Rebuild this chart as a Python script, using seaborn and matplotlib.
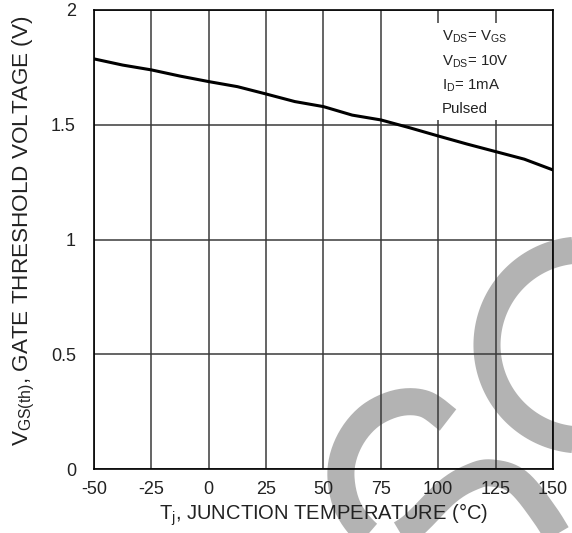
import numpy as np
import pandas as pd
import matplotlib
matplotlib.use('Agg')
import matplotlib.pyplot as plt
from matplotlib.lines import Line2D
import seaborn as sns

# Curve
temp_c = [-50, -37.5, -25, -12.5, 0, 12.5, 25, 37.5, 50, 62.5, 75, 87.5, 100, 112.5, 125, 137.5, 150]
vgs_th = [1.787, 1.760, 1.739, 1.712, 1.688, 1.666, 1.634, 1.601, 1.579, 1.542, 1.521, 1.487,
          1.451, 1.416, 1.383, 1.350, 1.303]
x_ticks = [-50, -25, 0, 25, 50, 75, 100, 125, 150]
y_ticks = [0, 0.5, 1, 1.5, 2]
y_tick_labels = ['0', '0.5', '1', '1.5', '2']
conditions = ['$V_{DS}$= $V_{GS}$', '$V_{DS}$= 10V', '$I_D$= 1mA', 'Pulsed']

df = pd.DataFrame({'Tj': temp_c, 'Vgs': vgs_th})

sns.set_style('white')
plt.rcParams['font.family'] = ['Liberation Sans', 'DejaVu Sans']
plt.rcParams['mathtext.default'] = 'regular'
plt.rcParams['axes.unicode_minus'] = False

W, H = 572, 533
fig = plt.figure(figsize=(W / 100, H / 100), dpi=100, facecolor='white')
ax = fig.add_axes([94 / W, 1 - 469 / H, 459 / W, 459 / H])
ax.set_facecolor('none')


# background watermark stroke (decoration, pixel coordinates of the page)
def catmull(pts, n=20):
    p = np.array(pts, dtype=float)
    p = np.vstack([p[0], p, p[-1]])
    out = []
    for i in range(1, len(p) - 2):
        p0, p1, p2, p3 = p[i - 1], p[i], p[i + 1], p[i + 2]
        for t in np.linspace(0, 1, n, endpoint=False):
            out.append(0.5 * ((2 * p1) + (-p0 + p2) * t + (2 * p0 - 5 * p1 + 4 * p2 - p3) * t ** 2
                              + (-p0 + 3 * p1 - 3 * p2 + p3) * t ** 3))
    out.append(p[-2])
    return np.array(out)


def add_stroke(xy):
    line = Line2D(xy[:, 0] / W, 1 - xy[:, 1] / H, transform=fig.transFigure,
                  color='#b3b3b3', lw=19.5, solid_capstyle='butt', zorder=-5)
    fig.add_artist(line)


wave = [(448, 420), (425, 404), (398, 403), (370, 416), (350, 440), (341, 470), (346, 503),
        (362, 528), (382, 540), (410, 528), (447, 492), (472, 477), (492, 473), (518, 482),
        (545, 515), (565, 548)]
add_stroke(catmull(wave))
t = np.radians(np.linspace(-100, 100, 120))
add_stroke(np.column_stack([582 - 95 * np.cos(t), 345 + 95 * np.sin(t)]))
add_stroke(catmull([(215, 565), (265, 541), (315, 565)]))

sns.lineplot(data=df, x='Tj', y='Vgs', ax=ax, color='black', lw=2.2, zorder=5)

ax.set_xlim(-50, 150)
ax.set_ylim(0, 2)
ax.set_xticks(x_ticks)
ax.set_yticks(y_ticks)
ax.set_yticklabels(y_tick_labels)
ax.grid(True, color='#3a3a3a', lw=1.1)
ax.set_axisbelow(True)
for s in ax.spines.values():
    s.set_color('black')
    s.set_linewidth(1.2)
ax.tick_params(axis='both', length=0, labelsize=13, colors='#222222')
ax.tick_params(axis='x', pad=9)
ax.tick_params(axis='y', pad=13)

ax.set_xlabel('$T_j$, JUNCTION TEMPERATURE (°C)', fontsize=14.5, color='#222222', labelpad=2)
ax.set_ylabel('$V_{GS(th)}$, GATE THRESHOLD VOLTAGE (V)', fontsize=16.2, color='#222222')
ax.yaxis.set_label_coords(-0.125, 0.52)

# condition notes
ax.text(101.5, 1.92, '\n'.join(conditions), fontsize=10.8, color='#222222', va='top', ha='left',
        linespacing=1.7, zorder=6,
        bbox=dict(facecolor='white', edgecolor='none', pad=3))

fig.savefig('out.png', dpi=100, facecolor='white')
